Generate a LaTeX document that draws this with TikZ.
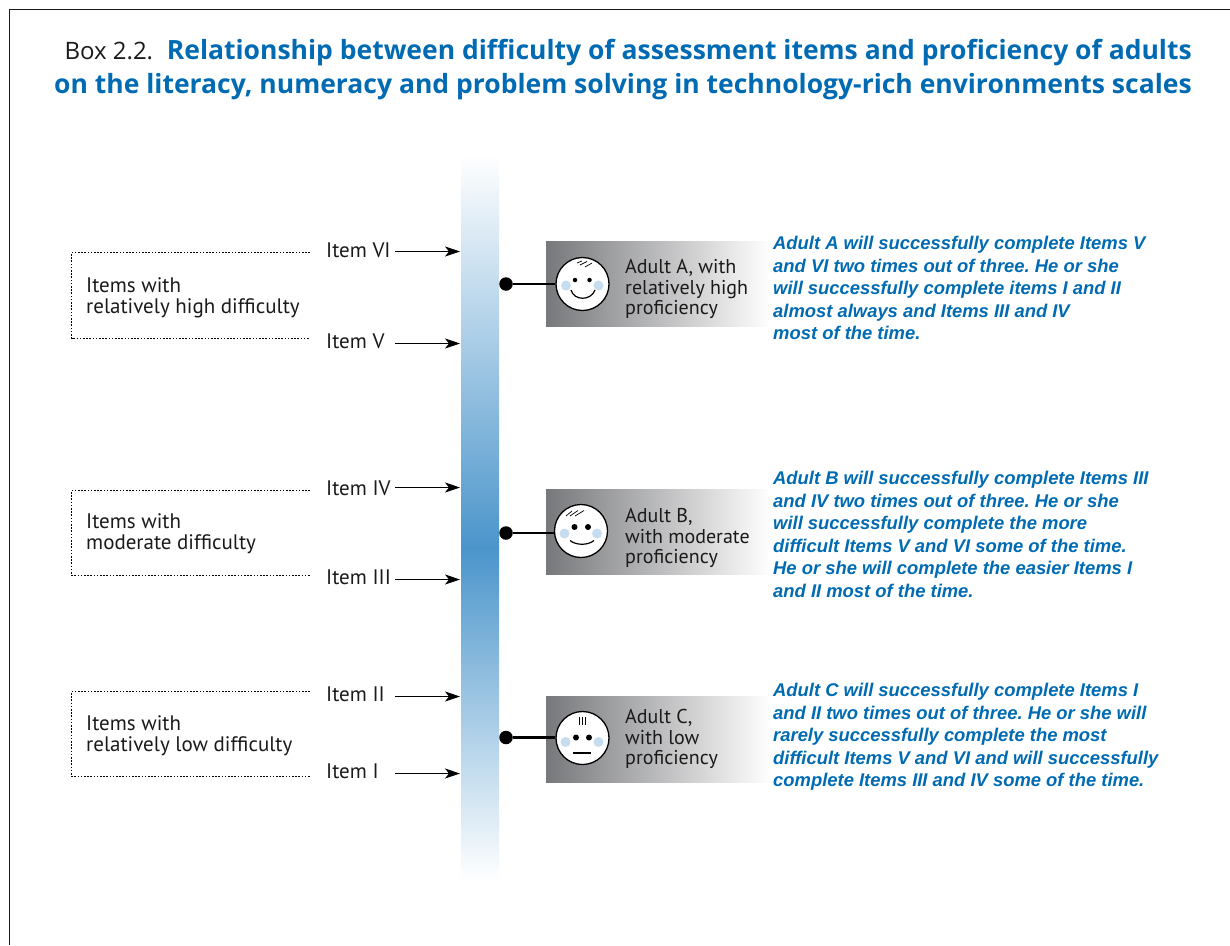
\documentclass[tikz,border=0pt]{standalone}
\usepackage{fontspec}
\setmainfont{PT Sans}
\newfontfamily\titlefont{Open Sans}
\newfontfamily\bluefont{Liberation Sans}
\usetikzlibrary{arrows.meta}
\definecolor{oecdblue}{HTML}{006BB3}
\definecolor{barblue}{HTML}{4B95CB}
\definecolor{cheek}{HTML}{C6DDEF}
\definecolor{boxgray}{HTML}{77787B}
\definecolor{inkc}{HTML}{1A1A1A}
\tikzset{
  lbl/.style={inner sep=0pt,anchor=north west,align=left,text=inkc,font=\fontsize{21}{21.4}\selectfont},
  adultlbl/.style={inner sep=0pt,anchor=north west,align=left,text=inkc,font=\fontsize{20}{20.6}\selectfont},
  itemlbl/.style={inner sep=0pt,anchor=base west,text=inkc,font=\fontsize{21}{20.9}\selectfont},
  bluetxt/.style={inner sep=0pt,anchor=north west,align=left,text=oecdblue,font=\frenchspacing\bluefont\bfseries\itshape\fontsize{18.4}{22.6}\selectfont},
  itemarrow/.style={-{Stealth[length=15pt,width=10pt,inset=4pt]},line width=1.1pt,black},
  dotbox/.style={line width=1.1pt,black,dash pattern=on 1.6pt off 1.6pt},
  graybox/.style={inner sep=0pt,minimum width=224pt,anchor=north west,left color=boxgray,right color=white,draw=none},
  face/.style={circle,draw=black,line width=1.3pt,fill=white,minimum size=53pt,inner sep=0pt},
  eye/.style={circle,fill=black,inner sep=0pt,minimum size=4.5pt},
  cheekdot/.style={circle,fill=cheek,inner sep=0pt,minimum size=10pt},
  enddot/.style={circle,fill=black,inner sep=0pt,minimum size=13.5pt},
  stem/.style={line width=2.7pt,black},
  hair/.style={line width=0.7pt,black},
  mouth/.style={line width=1.2pt,black}
}
\begin{document}
\begin{tikzpicture}[x=1pt,y=-1pt]
\useasboundingbox (0,0) rectangle (1230,945);
\draw[line width=1pt,inkc] (9.5,945) -- (9.5,9.5) -- (1230,9.5);
% title
\node[inner sep=0pt,anchor=north east,align=right,font=\titlefont\bfseries\fontsize{26.5}{34}\selectfont,text=oecdblue] (title) at (1192,39)
 {{\mdseries\fontsize{24}{34}\selectfont\color{inkc}Box 2.2.}\ \ Relationship between difficulty of assessment items and proficiency of adults\\on the literacy, numeracy and problem solving in technology-rich environments scales};
% bar
\shade[top color=white,bottom color=barblue] (461,155) rectangle (499,548);
\shade[top color=barblue,bottom color=white] (461,548) rectangle (499,880);
% items
\node[itemlbl] (i6) at (326,257) {Item VI};
\node[itemlbl] (i5) at (326,348) {Item V};
\node[itemlbl] (i4) at (326,495) {Item IV};
\node[itemlbl] (i3) at (326,584) {Item III};
\node[itemlbl] (i2) at (326,701) {Item II};
\node[itemlbl] (i1) at (326,778) {Item I};
\foreach \n/\y in {a6/251.5,a5/343.5,a4/487.5,a3/579.5,a2/696.5,a1/773.5}{
  \coordinate (\n s) at (395,\y);
  \coordinate (\n e) at (460,\y);
  \draw[itemarrow] (\n s) -- (\n e);
}
% dotted brackets
\foreach \n/\t/\b in {A/252.5/338.5,B/490.5/575.5,C/691.5/776.5}{
  \coordinate (\n tr) at (310,\t);
  \coordinate (\n tl) at (71.5,\t);
  \coordinate (\n bl) at (71.5,\b);
  \coordinate (\n br) at (310,\b);
  \draw[dotbox] (\n tr) -- (\n tl) -- (\n bl) -- (\n br);
}
\node[lbl] (ga) at (86,277) {Items with\\relatively high difficulty};
\node[lbl] (gb) at (86,513) {Items with\\moderate difficulty};
\node[lbl] (gc) at (86,715) {Items with\\relatively low difficulty};
% gray boxes
\node[graybox,minimum height=85pt] (ba) at (546,241) {};
\node[graybox,minimum height=85pt] (bb) at (546,489) {};
\node[graybox,minimum height=86pt] (bc) at (546,696) {};
% dots and stems
\node[enddot] (da) at (506,284) {};
\node[enddot] (db) at (506,533) {};
\node[enddot] (dc) at (506,737.5) {};
\node[face] (fa) at (582.5,284) {};
\node[face] (fb) at (581,531) {};
\node[face] (fc) at (582.5,738) {};
\draw[stem] (da) -- (fa.west |- da);
\draw[stem] (db) -- (fb.west |- db);
\draw[stem] (dc) -- (fc.west |- dc);
% face A
\node[cheekdot] at (566,285.5) {}; \node[cheekdot] at (598.5,285.5) {};
\node[eye] at (575,280) {}; \node[eye] at (589.5,280) {};
\draw[mouth] (571,290) .. controls (574,301) and (591,301) .. (595,290);
\draw[hair] (577,263) -- (582,261) (580,265) -- (587,261.5) (585,267) -- (592,263);
% face B
\node[cheekdot] at (564.5,533.5) {}; \node[cheekdot] at (597,533.5) {};
\node[eye,minimum height=6pt,minimum width=4.5pt] at (574.5,527) {}; \node[eye,minimum height=6pt,minimum width=4.5pt] at (588,527) {};
\draw[mouth] (570,540.5) .. controls (576,545.5) and (588,545.5) .. (594,540.5);
\draw[hair] (566,516) -- (572,511) (570,516) -- (578,510.5) (575,516) -- (584,510.5);
% face C
\node[cheekdot] at (565.5,742) {}; \node[cheekdot] at (598.5,742) {};
\node[eye,minimum height=6pt,minimum width=4.5pt] at (576,737.5) {}; \node[eye,minimum height=6pt,minimum width=4.5pt] at (589,737.5) {};
\draw[mouth] (573,753) -- (591,753);
\draw[hair] (579,717) -- (579,725) (582,717) -- (582,725) (585,717) -- (585,725);
% adult labels
\node[adultlbl] (ta) at (625,259) {Adult A, with\\relatively high\\proficiency};
\node[adultlbl] (tb) at (625,508) {Adult B,\\with moderate\\proficiency};
\node[adultlbl] (tc) at (625,709) {Adult C,\\with low\\proficiency};
% blue texts
\node[bluetxt] (ra) at (773,236) {Adult A will successfully complete Items V\\and VI two times out of three. He or she\\will successfully complete items I and II\\almost always and Items III and IV\\most of the time.};
\node[bluetxt] (rb) at (773,471) {Adult B will successfully complete Items III\\and IV two times out of three. He or she\\will successfully complete the more\\difficult Items V and VI some of the time.\\He or she will complete the easier Items I\\and II most of the time.};
\node[bluetxt] (rc) at (773,683) {Adult C will successfully complete Items I\\and II two times out of three. He or she will\\rarely successfully complete the most\\difficult Items V and VI and will successfully\\complete Items III and IV some of the time.};
\end{tikzpicture}
\end{document}
